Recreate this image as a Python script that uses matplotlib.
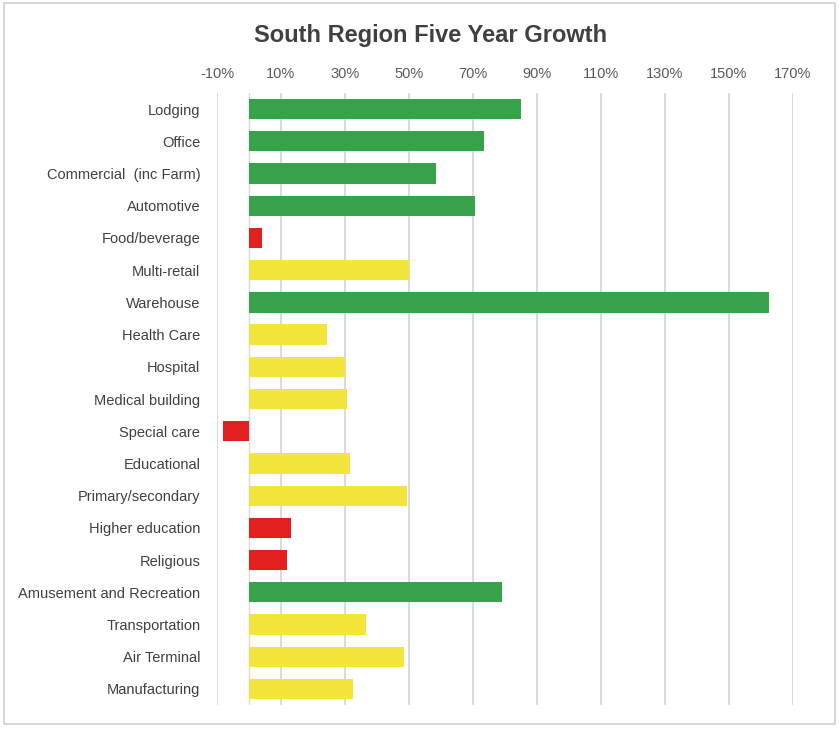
import matplotlib
matplotlib.use("Agg")
import matplotlib.pyplot as plt
from matplotlib.patches import Rectangle
from matplotlib.ticker import FuncFormatter

categories = [
    "Lodging", "Office", "Commercial  (inc Farm)", "Automotive", "Food/beverage",
    "Multi-retail", "Warehouse", "Health Care", "Hospital", "Medical building",
    "Special care", "Educational", "Primary/secondary", "Higher education",
    "Religious", "Amusement and Recreation", "Transportation", "Air Terminal",
    "Manufacturing",
]
growth = [
    0.85, 0.735, 0.585, 0.705, 0.04,
    0.50, 1.625, 0.245, 0.30, 0.305,
    -0.08, 0.315, 0.495, 0.13,
    0.12, 0.79, 0.365, 0.485,
    0.325,
]
status = [
    "up", "up", "up", "up", "down",
    "flat", "up", "flat", "flat", "flat",
    "down", "flat", "flat", "down",
    "down", "up", "flat", "flat",
    "flat",
]
tick_values = [-0.10, 0.10, 0.30, 0.50, 0.70, 0.90, 1.10, 1.30, 1.50, 1.70]

palette = {"up": "#36A24A", "flat": "#F4E53C", "down": "#E1201F"}

plt.rcParams["font.family"] = ["Liberation Sans", "DejaVu Sans"]

fig = plt.figure(figsize=(8.39, 7.30), dpi=100)
fig.patch.set_facecolor("white")
fig.add_artist(Rectangle((0.005, 0.008), 0.99, 0.988, transform=fig.transFigure,
                         fill=False, edgecolor="#D0D0D0", linewidth=1.2))

ax = fig.add_axes([0.2586, 0.0342, 0.9452 - 0.2586, 0.8726 - 0.0342])
ypos = list(range(len(categories)))
ax.barh(ypos, growth, height=0.63, color=[palette[s] for s in status],
        edgecolor="none", zorder=3)

ax.set_ylim(len(categories) - 0.5, -0.5)
ax.set_xlim(-0.10, 1.70)
ax.set_yticks(ypos)
ax.set_yticklabels(categories, fontsize=10.5, color="#404040")
ax.set_xticks(tick_values)
ax.xaxis.set_major_formatter(FuncFormatter(lambda v, _: f"{round(v * 100):d}%"))
ax.xaxis.tick_top()
ax.tick_params(axis="x", length=0, pad=9, labelsize=10.5, labelcolor="#595959")
ax.tick_params(axis="y", length=0, pad=12)
ax.grid(axis="x", color="#D9D9D9", linewidth=1.4, zorder=0)
ax.axvline(0, color="#D9D9D9", linewidth=1.0, zorder=1)
for side in ax.spines.values():
    side.set_visible(False)

fig.suptitle("South Region Five Year Growth", x=0.513, y=0.967,
             fontsize=17, fontweight="bold", color="#404040")

fig.savefig("out.png", dpi=100, facecolor="white")
